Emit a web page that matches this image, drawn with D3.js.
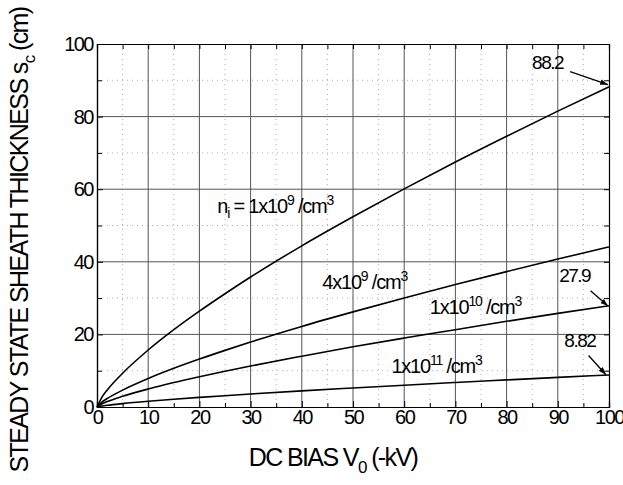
<!DOCTYPE html>
<html>
<head>
<meta charset="utf-8">
<script src="https://cdn.jsdelivr.net/npm/d3@7"></script>
<style>
  body { margin: 0; background: #fff; }
  svg text { font-family: "Liberation Sans", Arial, sans-serif; fill: #000; }
</style>
</head>
<body>
<div class="graphics"></div>
<script>
// bias voltage (-kV) and sheath thickness (cm)
var bias = [0, 1, 2, 5, 10, 15, 20, 25, 30, 40, 50, 60, 70, 80, 90, 100];
var s_1e9  = [0, 2.8, 4.7, 9.3, 15.7, 21.3, 26.4, 31.2, 35.8, 44.4, 52.4, 60.1, 67.5, 74.6, 81.5, 88.2];
var s_4e9  = [0, 1.4, 2.35, 4.65, 7.85, 10.65, 13.2, 15.6, 17.9, 22.2, 26.2, 30.05, 33.75, 37.3, 40.75, 44.1];
var s_1e10 = [0, 0.88, 1.49, 2.94, 4.96, 6.74, 8.35, 9.87, 11.3, 14.0, 16.6, 19.0, 21.3, 23.6, 25.8, 27.9];
var s_1e11 = [0, 0.28, 0.47, 0.93, 1.57, 2.13, 2.64, 3.12, 3.58, 4.44, 5.24, 6.01, 6.75, 7.46, 8.15, 8.82];
var xTicks = [0, 10, 20, 30, 40, 50, 60, 70, 80, 90, 100];
var yTicks = [0, 20, 40, 60, 80, 100];
var endLabels = ["88.2", "27.9", "8.82"];

function chart(){
    var margin = {top: 44, right: 14, bottom: 78, left: 97},
        width = 623 - margin.left - margin.right,
        height = 485 - margin.top - margin.bottom;

    var root = d3.select(".graphics")
        .append("svg")
        .attr("width", 623)
        .attr("height", 485);

    var svg = root.append("g")
        .attr("transform", "translate(" + margin.left + "," + margin.top + ")");

    var x = d3.scaleLinear().domain([0, 100]).range([0, width]);
    var y = d3.scaleLinear().domain([0, 100]).range([height, 0]);

    // minor dotted grid
    svg.selectAll(".vminor").data(d3.range(5, 100, 10)).enter()
        .append("line")
        .attr("x1", function(d){ return x(d); }).attr("x2", function(d){ return x(d); })
        .attr("y1", 0).attr("y2", height)
        .attr("stroke", "#999").attr("stroke-width", 0.8).attr("stroke-dasharray", "1,4");
    svg.selectAll(".hminor").data(d3.range(10, 100, 20)).enter()
        .append("line")
        .attr("y1", function(d){ return y(d); }).attr("y2", function(d){ return y(d); })
        .attr("x1", 0).attr("x2", width)
        .attr("stroke", "#999").attr("stroke-width", 0.8).attr("stroke-dasharray", "1,4");

    // major grid
    svg.selectAll(".vmajor").data(xTicks.slice(1, -1)).enter()
        .append("line")
        .attr("x1", function(d){ return x(d); }).attr("x2", function(d){ return x(d); })
        .attr("y1", 0).attr("y2", height)
        .attr("stroke", "#555").attr("stroke-width", 1);
    svg.selectAll(".hmajor").data(yTicks.slice(1, -1)).enter()
        .append("line")
        .attr("y1", function(d){ return y(d); }).attr("y2", function(d){ return y(d); })
        .attr("x1", 0).attr("x2", width)
        .attr("stroke", "#555").attr("stroke-width", 1);

    // axes with inward ticks
    var xb = svg.append("g").attr("transform", "translate(0," + height + ")")
        .call(d3.axisBottom(x).tickValues(xTicks).tickSize(-6).tickPadding(3).tickFormat(d3.format("d")));
    svg.append("g").attr("transform", "translate(0," + height + ")")
        .call(d3.axisBottom(x).tickValues(d3.range(5, 100, 10)).tickSize(-4).tickFormat(""));
    svg.append("g")
        .call(d3.axisTop(x).tickValues(d3.range(0, 101, 5)).tickSize(-5).tickFormat(""));
    var yl = svg.append("g")
        .call(d3.axisLeft(y).tickValues(yTicks).tickSize(-6).tickPadding(4).tickFormat(d3.format("d")));
    svg.append("g")
        .call(d3.axisLeft(y).tickValues(d3.range(10, 100, 20)).tickSize(-5).tickFormat(""));
    svg.append("g").attr("transform", "translate(" + width + ",0)")
        .call(d3.axisRight(y).tickValues(d3.range(0, 101, 10)).tickSize(-5).tickFormat(""));

    svg.selectAll(".domain").attr("stroke", "#000").attr("stroke-width", 1.2);
    svg.selectAll(".tick line").attr("stroke", "#000");
    xb.selectAll("text").style("font-size", "20px").style("letter-spacing", "-1.5px").attr("fill", "#000");
    yl.selectAll("text").style("font-size", "20px").style("letter-spacing", "-1.5px").attr("fill", "#000");

    // curves
    var series = [s_1e9, s_4e9, s_1e10, s_1e11];
    var line = d3.line()
        .x(function(d){ return x(d[0]); })
        .y(function(d){ return y(d[1]); })
        .curve(d3.curveMonotoneX);
    svg.selectAll(".curve").data(series).enter()
        .append("path")
        .attr("d", function(s){ return line(bias.map(function(v, i){ return [v, s[i]]; })); })
        .attr("fill", "none").attr("stroke", "#000").attr("stroke-width", 1.6);

    // curve labels
    function label(px, py, parts){
        var t = svg.append("text").attr("x", px).attr("y", py)
            .style("font-size", "20px").style("letter-spacing", "-1.2px");
        parts.forEach(function(p){
            var ts = t.append("tspan").text(p[0]);
            if (p[1] === "sup") ts.attr("dy", -8).style("font-size", "14px");
            if (p[1] === "sub") ts.attr("dy", 5).style("font-size", "14px");
            if (p[1] === "back") ts.attr("dy", p[2]);
        });
    }
    label(x(23.5), y(53.5), [["n"], ["i", "sub"], [" = 1x10", "back", -5], ["9", "sup"], [" /cm", "back", 8], ["3", "sup"]]);
    label(x(44), y(32.5), [["4x10"], ["9", "sup"], [" /cm", "back", 8], ["3", "sup"]]);
    label(x(65), y(25.5), [["1x10"], ["10", "sup"], [" /cm", "back", 8], ["3", "sup"]]);
    label(x(57.5), y(9.5), [["1x10"], ["11", "sup"], [" /cm", "back", 8], ["3", "sup"]]);

    // end value labels with arrows
    var endPos = [[88, 93], [93.3, 34.4], [94.3, 16.5]];
    root.append("defs").append("marker")
        .attr("id", "arrow").attr("viewBox", "0 0 10 10").attr("refX", 10).attr("refY", 5)
        .attr("markerWidth", 6).attr("markerHeight", 6).attr("orient", "auto")
        .append("path").attr("d", "M0,1.5 L10,5 L0,8.5 Z").attr("fill", "#000");
    endPos.forEach(function(p, i){
        svg.append("text").attr("x", x(p[0])).attr("y", y(p[1])).attr("text-anchor", "middle")
            .style("font-size", "19px").style("letter-spacing", "-1.5px").text(endLabels[i]);
    });
    var arrows = [[92.4, 92.4, 99.8, 88.8], [96.4, 32.0, 99.8, 27.8], [96.0, 14.2, 99.4, 8.9]];
    arrows.forEach(function(a){
        svg.append("line")
            .attr("x1", x(a[0])).attr("y1", y(a[1])).attr("x2", x(a[2])).attr("y2", y(a[3]))
            .attr("stroke", "#000").attr("stroke-width", 1.3).attr("marker-end", "url(#arrow)");
    });

    // axis titles
    var xt = root.append("text").attr("x", 333).attr("y", 466).attr("text-anchor", "middle")
        .style("font-size", "25px").style("letter-spacing", "-1.6px");
    xt.append("tspan").text("DC BIAS  V");
    xt.append("tspan").attr("dy", 7).style("font-size", "17px").text("0");
    xt.append("tspan").attr("dy", -7).text(" (-kV)");

    var yt = root.append("text").attr("transform", "translate(28,240) rotate(-90)")
        .attr("text-anchor", "middle")
        .style("font-size", "25px").style("letter-spacing", "-1.6px");
    yt.append("tspan").text("STEADY STATE SHEATH THICKNESS s");
    yt.append("tspan").attr("dy", 7).style("font-size", "17px").text("c");
    yt.append("tspan").attr("dy", -7).text(" (cm)");
}

chart();
</script>
</body>
</html>
